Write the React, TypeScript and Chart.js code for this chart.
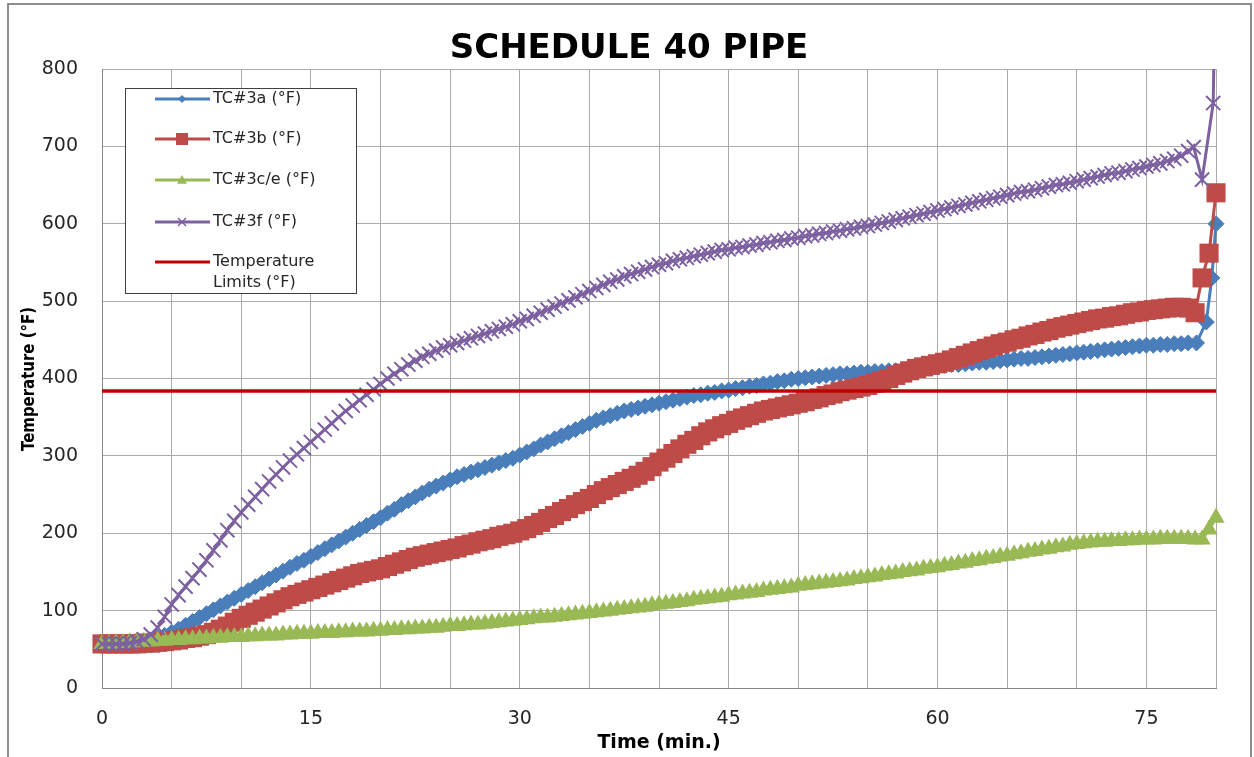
import React, { useEffect, useRef } from "react";
import { Chart, registerables } from "chart.js";

Chart.register(...registerables);

// ---------- data (time in minutes, temperatures in °F) ----------
const TIME_MIN = [
  0, 0.5, 1, 1.5, 2, 2.5, 3, 3.5, 4, 4.5,
  5, 5.5, 6, 6.5, 7, 7.5, 8, 8.5, 9, 9.5,
  10, 10.5, 11, 11.5, 12, 12.5, 13, 13.5, 14, 14.5,
  15, 15.5, 16, 16.5, 17, 17.5, 18, 18.5, 19, 19.5,
  20, 20.5, 21, 21.5, 22, 22.5, 23, 23.5, 24, 24.5,
  25, 25.5, 26, 26.5, 27, 27.5, 28, 28.5, 29, 29.5,
  30, 30.5, 31, 31.5, 32, 32.5, 33, 33.5, 34, 34.5,
  35, 35.5, 36, 36.5, 37, 37.5, 38, 38.5, 39, 39.5,
  40, 40.5, 41, 41.5, 42, 42.5, 43, 43.5, 44, 44.5,
  45, 45.5, 46, 46.5, 47, 47.5, 48, 48.5, 49, 49.5,
  50, 50.5, 51, 51.5, 52, 52.5, 53, 53.5, 54, 54.5,
  55, 55.5, 56, 56.5, 57, 57.5, 58, 58.5, 59, 59.5,
  60, 60.5, 61, 61.5, 62, 62.5, 63, 63.5, 64, 64.5,
  65, 65.5, 66, 66.5, 67, 67.5, 68, 68.5, 69, 69.5,
  70, 70.5, 71, 71.5, 72, 72.5, 73, 73.5, 74, 74.5,
  75, 75.5, 76, 76.5, 77, 77.5, 78,
];

const TC3A = [
  57, 57, 57, 57, 58, 59, 60, 62, 65, 68,
  72, 76, 81, 86, 91, 96, 101, 106, 111, 116,
  121, 126, 131, 136, 141, 146, 151, 156, 161, 165,
  170, 175, 180, 185, 190, 195, 200, 205, 210, 215,
  220, 226, 231, 237, 242, 247, 252, 257, 261, 265,
  269, 273, 276, 279, 282, 285, 288, 291, 294, 297,
  301, 305, 309, 314, 318, 322, 326, 330, 334, 338,
  342, 346, 349, 352, 355, 358, 360, 362, 364, 366,
  368, 370, 372, 374, 376, 378, 379, 381, 382, 384,
  385, 387, 388, 390, 391, 393, 394, 396, 397, 399,
  400, 401, 402, 403, 404, 405, 406, 406, 407, 408,
  408, 409, 409, 410, 410, 411, 412, 413, 414, 415,
  416, 417, 418, 418, 419, 420, 421, 421, 422, 423,
  424, 425, 426, 426, 427, 428, 429, 430, 431, 432,
  433, 434, 435, 436, 437, 438, 439, 440, 441, 442,
  443, 443, 444, 444, 445, 445, 446,
];
const TC3A_TAIL_TIME = [78.6, 79.3, 79.7, 80];
const TC3A_TAIL = [446, 473, 530, 600];

const TC3B = [
  57, 57, 57, 57, 57, 57, 58, 58, 59, 60,
  61, 62, 64, 65, 67, 69, 72, 76, 80, 85,
  90, 94, 98, 102, 106, 110, 114, 118, 121, 124,
  127, 130, 133, 136, 139, 142, 145, 148, 150, 152,
  154, 157, 160, 163, 166, 169, 171, 173, 175, 177,
  179, 181, 184, 186, 189, 191, 193, 196, 198, 200,
  203, 206, 210, 214, 219, 223, 228, 232, 237, 241,
  245, 250, 255, 259, 263, 267, 271, 275, 280, 286,
  292, 297, 303, 309, 315, 320, 326, 331, 335, 339,
  342, 346, 349, 352, 355, 358, 360, 362, 364, 366,
  368, 370, 373, 375, 378, 380, 383, 385, 387, 389,
  391, 394, 397, 400, 404, 407, 410, 413, 415, 417,
  419, 421, 424, 427, 430, 433, 436, 439, 442, 445,
  447, 450, 452, 455, 457, 460, 462, 465, 467, 469,
  471, 473, 475, 477, 478, 480, 481, 483, 485, 486,
  488, 489, 490, 491, 492, 492, 491,
];
const TC3B_TAIL_TIME = [78.5, 79, 79.5, 80];
const TC3B_TAIL = [485, 530, 562, 640];

const TC3CE = [
  57, 57, 58, 58, 59, 59, 60, 60, 61, 61,
  62, 62, 63, 63, 64, 64, 65, 65, 66, 66,
  66, 67, 67, 68, 68, 68, 69, 69, 70, 70,
  70, 71, 71, 71, 72, 72, 73, 73, 73, 74,
  74, 75, 75, 76, 76, 77, 77, 78, 78, 79,
  80, 80, 81, 82, 82, 83, 84, 85, 86, 87,
  88, 89, 90, 91, 91, 92, 93, 94, 95, 96,
  97, 98, 99, 100, 101, 102, 103, 104, 105, 107,
  108, 109, 110, 111, 112, 114, 115, 116, 117, 118,
  120, 121, 122, 123, 124, 126, 127, 128, 129, 130,
  132, 133, 134, 135, 136, 137, 138, 139, 141, 142,
  143, 144, 146, 147, 148, 150, 151, 152, 154, 155,
  156, 158, 159, 161, 162, 164, 165, 167, 168, 170,
  171, 173, 174, 176, 177, 179, 180, 182, 183, 185,
  186, 187, 188, 189, 189, 190, 190, 191, 191, 192,
  192, 192, 193, 193, 193, 193, 193,
];
const TC3CE_TAIL_TIME = [78.5, 79, 79.5, 80];
const TC3CE_TAIL = [192, 192, 205, 220];

const TC3F = [
  57, 57, 57, 57, 58, 60, 63, 69, 78, 92,
  108, 120, 131, 142, 153, 165, 178, 191, 204, 216,
  227, 237, 247, 257, 267, 276, 285, 294, 302, 310,
  318, 326, 334, 342, 350, 358, 365, 372, 379, 386,
  393, 400, 406, 412, 418, 423, 428, 432, 436, 440,
  443, 446, 449, 452, 455, 458, 461, 464, 467, 470,
  474, 477, 481, 485, 489, 493, 497, 501, 505, 509,
  513, 517, 521, 525, 528, 532, 535, 538, 541, 544,
  547, 549, 552, 554, 556, 558, 560, 562, 564, 566,
  567, 569, 570, 572, 573, 575, 576, 578, 579, 581,
  582, 584, 585, 587, 588, 590, 591, 593, 594, 596,
  597, 599, 601, 603, 605, 607, 609, 611, 613, 615,
  617, 619, 621, 623, 625, 627, 629, 631, 633, 635,
  637, 639, 641, 642, 644, 646, 648, 650, 651, 653,
  655, 657, 659, 661, 663, 665, 666, 668, 670, 672,
  674, 676, 678, 681, 684, 688, 694,
];
const TC3F_TAIL_TIME = [78.4, 79, 79.8, 80.1];
const TC3F_TAIL = [699, 657, 756, 1100];

const LIMIT_TIME = [0, 80];
const LIMIT_VALUES = [384, 384];

const SERIES_LABELS = ["TC#3a (°F)", "TC#3b (°F)", "TC#3c/e (°F)", "TC#3f (°F)", "Temperature Limits (°F)"];
const LEGEND_LINES = [["TC#3a (°F)"], ["TC#3b (°F)"], ["TC#3c/e (°F)"], ["TC#3f (°F)"], ["Temperature", "Limits (°F)"]];
const X_LABELED_TICKS = [0, 15, 30, 45, 60, 75];

const TITLE = "SCHEDULE 40 PIPE";
const X_TITLE = "Time (min.)";
const Y_TITLE = "Temperature (°F)";

// ---------- styles ----------
const FONT = '"DejaVu Sans", sans-serif';
const BLUE = "#4A7EBB";
const RED = "#BE4B48";
const GREEN = "#98B954";
const PURPLE = "#7D60A0";
const LIMIT = "#C00000";
const TEXT = "#262626";
const GRID = "#ABABAB";

const pts = (ts: number[], vs: number[]) => ts.map((t, i) => ({ x: t, y: vs[i] }));

function drawMarker(ctx: CanvasRenderingContext2D, style: string, x: number, y: number, r: number, color: string) {
  ctx.save();
  ctx.fillStyle = color;
  ctx.strokeStyle = color;
  ctx.beginPath();
  if (style === "rectRot") {
    ctx.moveTo(x, y - r);
    ctx.lineTo(x + r, y);
    ctx.lineTo(x, y + r);
    ctx.lineTo(x - r, y);
    ctx.closePath();
    ctx.fill();
  } else if (style === "rect") {
    ctx.rect(x - r, y - r, 2 * r, 2 * r);
    ctx.fill();
  } else if (style === "triangle") {
    ctx.moveTo(x, y - r);
    ctx.lineTo(x + r, y + r * 0.75);
    ctx.lineTo(x - r, y + r * 0.75);
    ctx.closePath();
    ctx.fill();
  } else if (style === "crossRot") {
    ctx.lineWidth = 1.5;
    ctx.moveTo(x - r, y - r);
    ctx.lineTo(x + r, y + r);
    ctx.moveTo(x + r, y - r);
    ctx.lineTo(x - r, y + r);
    ctx.stroke();
  }
  ctx.restore();
}

const decorPlugin = {
  id: "decor",
  beforeDraw(chart: any) {
    const ctx = chart.ctx as CanvasRenderingContext2D;
    ctx.save();
    ctx.fillStyle = "#FFFFFF";
    ctx.fillRect(0, 0, chart.width, chart.height);
    ctx.strokeStyle = "#8C8C8C";
    ctx.lineWidth = 2;
    ctx.strokeRect(8, 4, 1243, 800);
    ctx.restore();
  },
  afterDraw(chart: any) {
    const ctx = chart.ctx as CanvasRenderingContext2D;
    ctx.save();
    // title
    ctx.fillStyle = "#000000";
    ctx.font = `bold 34px ${FONT}`;
    ctx.textAlign = "center";
    ctx.textBaseline = "alphabetic";
    ctx.fillText(TITLE, 629, 58);
    // x title
    ctx.font = `bold 19px ${FONT}`;
    ctx.textBaseline = "middle";
    ctx.fillText(X_TITLE, 659, 743);
    // y title (rotated, compressed along its length like the reference)
    ctx.save();
    ctx.translate(29, 379);
    ctx.rotate(-Math.PI / 2);
    ctx.scale(0.83, 1);
    ctx.font = `bold 18px ${FONT}`;
    ctx.fillText(Y_TITLE, 0, 0);
    ctx.restore();

    // legend
    const bx = 125, by = 88, bw = 231, bh = 205;
    ctx.fillStyle = "#FFFFFF";
    ctx.fillRect(bx, by, bw, bh);
    ctx.strokeStyle = "#404040";
    ctx.lineWidth = 1;
    ctx.strokeRect(bx + 0.5, by + 0.5, bw, bh);
    const rows = [99, 139, 180, 222, 262];
    const markers = [
      { s: "rectRot", r: 4 },
      { s: "rect", r: 6 },
      { s: "triangle", r: 5 },
      { s: "crossRot", r: 4 },
      { s: "none", r: 0 },
    ];
    const ds = chart.data.datasets;
    ctx.font = `16px ${FONT}`;
    ctx.textAlign = "left";
    ctx.textBaseline = "middle";
    LEGEND_LINES.forEach((lines, i) => {
      const y = rows[i];
      const color = ds[i].borderColor as string;
      ctx.strokeStyle = color;
      ctx.lineWidth = 3;
      ctx.beginPath();
      ctx.moveTo(155, y);
      ctx.lineTo(210, y);
      ctx.stroke();
      drawMarker(ctx, markers[i].s, 182, y, markers[i].r, color);
      ctx.fillStyle = TEXT;
      lines.forEach((ln, j) => ctx.fillText(ln, 213, y + j * 21));
    });
    ctx.restore();
  },
};

export default function App() {
  const canvasRef = useRef<HTMLCanvasElement | null>(null);

  useEffect(() => {
    const canvas = canvasRef.current;
    if (!canvas) return;
    const chart = new Chart(canvas, {
      type: "line",
      data: {
        datasets: [
          {
            label: SERIES_LABELS[0],
            data: [...pts(TIME_MIN, TC3A), ...pts(TC3A_TAIL_TIME, TC3A_TAIL)],
            borderColor: BLUE,
            backgroundColor: BLUE,
            borderWidth: 3,
            pointStyle: "rectRot",
            pointRadius: 8,
            pointBorderWidth: 1,
            pointBackgroundColor: BLUE,
            pointBorderColor: BLUE,
            tension: 0,
            order: 4,
            clip: false,
          },
          {
            label: SERIES_LABELS[1],
            data: [...pts(TIME_MIN, TC3B), ...pts(TC3B_TAIL_TIME, TC3B_TAIL)],
            borderColor: RED,
            backgroundColor: RED,
            borderWidth: 3,
            pointStyle: "rect",
            pointRadius: 13.5,
            pointBorderWidth: 0,
            pointBackgroundColor: RED,
            pointBorderColor: RED,
            tension: 0,
            order: 3,
            clip: false,
          },
          {
            label: SERIES_LABELS[2],
            data: [...pts(TIME_MIN, TC3CE), ...pts(TC3CE_TAIL_TIME, TC3CE_TAIL)],
            borderColor: GREEN,
            backgroundColor: GREEN,
            borderWidth: 3,
            pointStyle: "triangle",
            pointRadius: 10,
            pointBorderWidth: 0,
            pointBackgroundColor: GREEN,
            pointBorderColor: GREEN,
            tension: 0,
            order: 2,
            clip: false,
          },
          {
            label: SERIES_LABELS[3],
            data: [...pts(TIME_MIN, TC3F), ...pts(TC3F_TAIL_TIME, TC3F_TAIL)],
            borderColor: PURPLE,
            backgroundColor: PURPLE,
            borderWidth: 3,
            pointStyle: "crossRot",
            pointRadius: 10,
            pointBorderWidth: 2,
            pointBackgroundColor: PURPLE,
            pointBorderColor: PURPLE,
            tension: 0,
            order: 1,
            clip: { left: 12, right: 12, top: 0, bottom: 12 } as any,
          },
          {
            label: SERIES_LABELS[4],
            data: pts(LIMIT_TIME, LIMIT_VALUES),
            borderColor: LIMIT,
            backgroundColor: LIMIT,
            borderWidth: 3.5,
            pointRadius: 0,
            tension: 0,
            order: 0,
          },
        ],
      },
      options: {
        responsive: false,
        animation: false,
        events: [],
        layout: { padding: { left: 0, top: 69, right: 38, bottom: 0 } },
        plugins: {
          legend: { display: false },
          title: { display: false },
          tooltip: { enabled: false },
        },
        scales: {
          x: {
            type: "linear",
            min: 0,
            max: 80,
            afterFit: (scale: any) => {
              scale.height = 69;
            },
            ticks: {
              stepSize: 5,
              autoSkip: false,
              maxRotation: 0,
              padding: 20,
              color: TEXT,
              font: { family: FONT, size: 19 },
              callback: (v: any) => (X_LABELED_TICKS.includes(Number(v)) ? String(v) : ""),
            },
            grid: { color: GRID, lineWidth: 1, drawTicks: false },
            border: { color: "#868686", width: 1 },
          },
          y: {
            type: "linear",
            min: 0,
            max: 800,
            afterFit: (scale: any) => {
              scale.width = 102;
            },
            ticks: {
              stepSize: 100,
              padding: 24,
              color: TEXT,
              font: { family: FONT, size: 19 },
            },
            grid: { color: GRID, lineWidth: 1, drawTicks: false },
            border: { color: "#868686", width: 1 },
          },
        },
      },
      plugins: [decorPlugin],
    } as any);
    return () => chart.destroy();
  }, []);

  return (
    <div style={{ position: "fixed", left: 0, top: 0, width: 1254, height: 757, background: "#fff" }}>
      <canvas ref={canvasRef} width={1254} height={757} style={{ display: "block", width: 1254, height: 757 }} />
    </div>
  );
}
